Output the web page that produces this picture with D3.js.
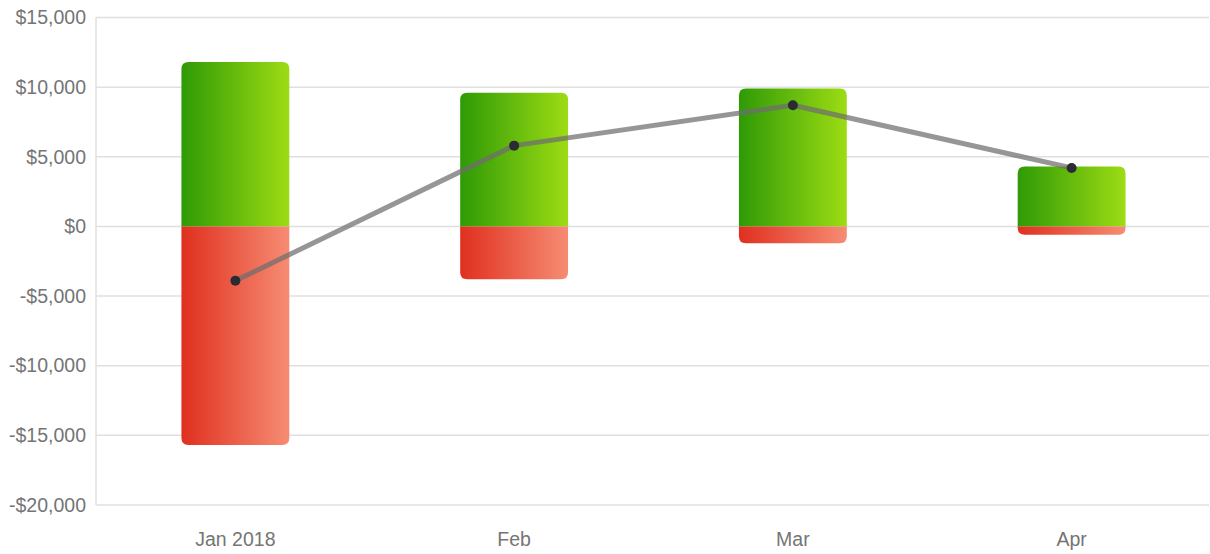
<!DOCTYPE html>
<html>
<head>
<meta charset="utf-8">
<script src="https://cdnjs.cloudflare.com/ajax/libs/d3/7.8.5/d3.min.js"></script>
<style>
  html, body { margin: 0; padding: 0; background: #fff; }
  svg { display: block; font-family: "Liberation Sans", Arial, sans-serif; }
</style>
</head>
<body>
<div id="chart"></div>
<script>
var months = ["Jan 2018", "Feb", "Mar", "Apr"];
var income = [11800, 9600, 9900, 4300];
var expenses = [-15700, -3800, -1200, -600];
var net = [-3900, 5800, 8700, 4200];
var yTicks = [15000, 10000, 5000, 0, -5000, -10000, -15000, -20000];

var width = 1210, height = 554;
var plotLeft = 96, plotRight = 1211, plotTop = 17.5, plotBottom = 505;

var svg = d3.select("#chart").append("svg")
  .attr("width", width)
  .attr("height", height);

var defs = svg.append("defs");
var gGreen = defs.append("linearGradient").attr("id", "green").attr("x1", "0").attr("x2", "1").attr("y1", "0").attr("y2", "0");
gGreen.append("stop").attr("offset", "0%").attr("stop-color", "#2f9a06");
gGreen.append("stop").attr("offset", "100%").attr("stop-color", "#9ddc14");
var gRed = defs.append("linearGradient").attr("id", "red").attr("x1", "0").attr("x2", "1").attr("y1", "0").attr("y2", "0");
gRed.append("stop").attr("offset", "0%").attr("stop-color", "#e0301f");
gRed.append("stop").attr("offset", "100%").attr("stop-color", "#f68c73");

var x = d3.scaleBand().domain(months).range([plotLeft, plotRight])
  .paddingInner(0.613).paddingOuter(0.3065);
var y = d3.scaleLinear().domain([-20000, 15000]).range([plotBottom, plotTop]);

// grid
svg.append("g").selectAll("line")
  .data(yTicks)
  .enter().append("line")
  .attr("x1", plotLeft).attr("x2", 1209)
  .attr("y1", d => y(d)).attr("y2", d => y(d))
  .style("stroke", "#e0e0e0").style("stroke-width", 1.5);

svg.append("line")
  .attr("x1", plotLeft).attr("x2", plotLeft)
  .attr("y1", plotTop).attr("y2", plotBottom)
  .style("stroke", "#e0e0e0").style("stroke-width", 1.5);

// y axis labels
var fmt = d => (d < 0 ? "-$" : "$") + d3.format(",")(Math.abs(d));
var yAxis = svg.append("g")
  .attr("transform", "translate(" + (plotLeft - 10) + ",0)")
  .call(d3.axisLeft(y).tickValues(yTicks).tickFormat(fmt).tickSize(0).tickPadding(0));
yAxis.select(".domain").remove();
yAxis.selectAll("text")
  .style("fill", "#757575").style("font-size", "19.5px")
  .style("font-family", "'Liberation Sans', Arial, sans-serif");

// x axis labels
var xAxis = svg.append("g")
  .attr("transform", "translate(0," + plotBottom + ")")
  .call(d3.axisBottom(x).tickSize(0).tickPadding(27));
xAxis.select(".domain").remove();
xAxis.selectAll("text")
  .style("fill", "#757575").style("font-size", "19.5px")
  .style("font-family", "'Liberation Sans', Arial, sans-serif");

// bar path with rounded outer end
var r = 7;
function barPath(x0, w, y0, y1) {
  // y0 = baseline (zero), y1 = outer end
  var s = y1 < y0 ? 1 : -1;
  var rr = Math.min(r, Math.abs(y0 - y1));
  return "M" + x0 + "," + y0 +
    "V" + (y1 + s * rr) +
    "Q" + x0 + "," + y1 + " " + (x0 + rr) + "," + y1 +
    "H" + (x0 + w - rr) +
    "Q" + (x0 + w) + "," + y1 + " " + (x0 + w) + "," + (y1 + s * rr) +
    "V" + y0 + "Z";
}

svg.append("g").selectAll("path")
  .data(months)
  .enter().append("path")
  .attr("d", (d, i) => barPath(x(d), x.bandwidth(), y(0), y(income[i])))
  .style("fill", "url(#green)");

svg.append("g").selectAll("path")
  .data(months)
  .enter().append("path")
  .attr("d", (d, i) => barPath(x(d), x.bandwidth(), y(0), y(expenses[i])))
  .style("fill", "url(#red)");

// net line
var line = d3.line()
  .x((d, i) => x(months[i]) + x.bandwidth() / 2)
  .y(d => y(d));

svg.append("path")
  .datum(net)
  .attr("d", line)
  .style("fill", "none")
  .style("stroke", "rgba(110,110,110,0.72)")
  .style("stroke-width", 5)
  .style("stroke-linejoin", "round");

svg.append("g").selectAll("circle")
  .data(net)
  .enter().append("circle")
  .attr("cx", (d, i) => x(months[i]) + x.bandwidth() / 2)
  .attr("cy", d => y(d))
  .attr("r", 5)
  .style("fill", "#2b2b33");
</script>
</body>
</html>
